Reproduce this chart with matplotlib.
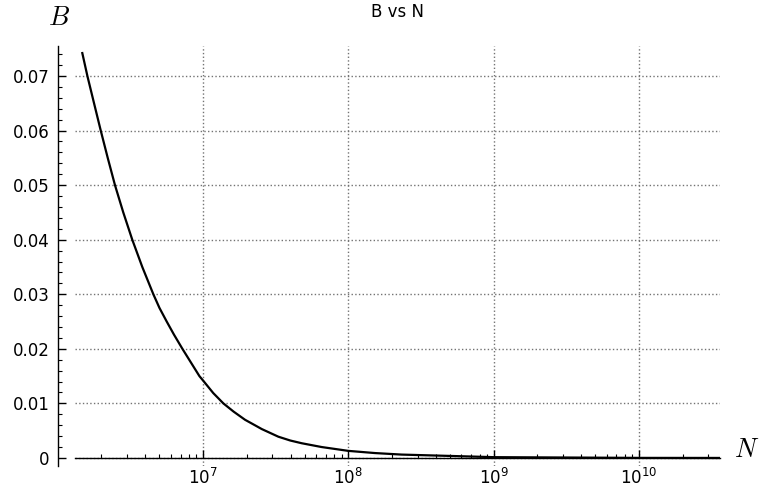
'''
B vs N curve, drawn in the style of a Sage plot.
'''

from matplotlib import pyplot as pl
from matplotlib import ticker

# Values
n_values = [1.476e6, 1.600e6, 1.778e6, 1.977e6, 2.208e6, 2.477e6, 2.825e6,
            3.258e6, 3.819e6, 4.550e6, 5.012e6, 5.623e6, 6.310e6, 7.211e6,
            9.441e6, 1.000e7, 1.175e7, 1.380e7, 1.622e7, 1.945e7, 2.239e7,
            2.535e7, 3.296e7, 3.981e7, 4.775e7, 6.561e7, 1.000e8, 1.524e8,
            2.328e8, 1.000e9, 1.000e10, 3.550e10]
b_values = [0.0742, 0.0700, 0.0650, 0.0600, 0.0550, 0.0500, 0.0450,
            0.0400, 0.0350, 0.0300, 0.0275, 0.0250, 0.0226, 0.0200,
            0.0150, 0.0142, 0.0119, 0.0100, 0.0085, 0.0070, 0.0061,
            0.0053, 0.0039, 0.0032, 0.0027, 0.0020, 0.0013, 0.0009,
            0.00062, 0.00015, 0.000015, 0.000005]

yticks = [0, 0.01, 0.02, 0.03, 0.04, 0.05, 0.06, 0.07]
yticklabels = ['0', '0.01', '0.02', '0.03', '0.04', '0.05', '0.06', '0.07']
xticks = [1e7, 1e8, 1e9, 1e10]

pl.rcParams['mathtext.fontset'] = 'dejavusans'

fig = pl.figure(figsize=(7.6, 4.95), dpi=100)
ax = fig.add_axes([0.0987, 0.0586, 0.8487, 0.8485])

ax.plot(n_values, b_values, color='black', linewidth=1.6)

ax.set_xscale('log')
ax.set_xlim(1.315e6, 3.61e10)
ax.set_ylim(-0.00147, 0.0755)

# Sage style axes: x axis through zero, y axis pushed to the left
ax.spines['top'].set_visible(False)
ax.spines['right'].set_visible(False)
ax.spines['bottom'].set_position(('data', 0))
ax.spines['left'].set_position(('outward', 12.2))
ax.spines['bottom'].set_linewidth(1.0)
ax.spines['left'].set_linewidth(1.0)

ax.set_yticks(yticks)
ax.set_yticklabels(yticklabels)
ax.yaxis.set_minor_locator(ticker.MultipleLocator(0.002))
ax.set_xticks(xticks)
ax.xaxis.set_minor_locator(ticker.LogLocator(base=10, subs=range(2, 10)))
ax.xaxis.set_minor_formatter(ticker.NullFormatter())

ax.tick_params(which='major', direction='in', length=6, width=1,
               labelsize=12, colors='black')
ax.tick_params(which='minor', direction='in', length=3, width=0.8)
ax.tick_params(axis='x', pad=7)
ax.tick_params(axis='y', pad=6)

ax.grid(True, which='major', linestyle=':', color='0.45', linewidth=1.0)

ax.set_title('B vs N', fontsize=12, pad=21)

# Axis labels placed at the ends of the axes
fig.text(0.077, 0.963, r'$B$', fontsize=19, math_fontfamily='cm',
         ha='center', va='center')
fig.text(0.982, 0.090, r'$N$', fontsize=19, math_fontfamily='cm',
         ha='center', va='center')

fig.savefig('out.png', dpi=100)
